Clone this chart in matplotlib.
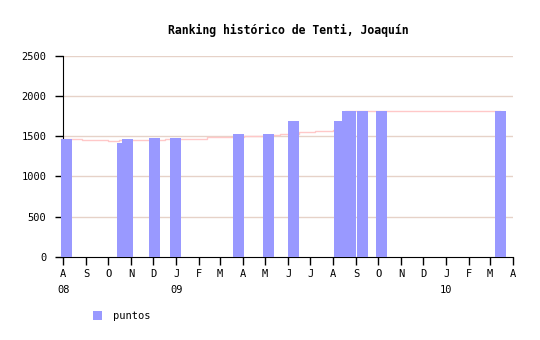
import pandas as pd
import matplotlib.pyplot as plt
from matplotlib.patches import Patch

# bar dates and ranking points
bar_dates = ["2008-08-05", "2008-10-20", "2008-10-27", "2008-12-03", "2008-12-31",
             "2009-03-26", "2009-05-05", "2009-06-08", "2009-08-09", "2009-08-20",
             "2009-08-24", "2009-09-09", "2009-10-05", "2010-03-15"]
puntos = [1470, 1420, 1470, 1485, 1485, 1535, 1535, 1685, 1685, 1810,
          1820, 1820, 1820, 1810]

# pink trend line (steps)
line_dates = ["2008-07-29", "2008-08-26", "2008-09-30", "2008-10-16", "2008-12-16",
              "2009-02-11", "2009-04-02", "2009-05-11", "2009-05-21", "2009-06-16",
              "2009-07-08", "2009-08-01", "2009-08-17", "2010-03-14"]
line_vals = [1465, 1455, 1446, 1459, 1471, 1487, 1500, 1521, 1530, 1555,
             1571, 1584, 1821, 1821]

month_labels = ["A", "S", "O", "N", "D", "J", "F", "M", "A", "M", "J",
                "J", "A", "S", "O", "N", "D", "J", "F", "M", "A"]
year_labels = {0: "08", 5: "09", 17: "10"}

font = "DejaVu Sans Mono"


def main():
    bd = pd.to_datetime(bar_dates)
    ld = pd.to_datetime(line_dates)
    months = pd.date_range("2008-08-01", "2010-04-01", freq="MS")

    fig = plt.figure(figsize=(5.4, 3.4), dpi=100)
    ax = fig.add_axes([0.117, 0.245, 0.833, 0.59])

    for v in [500, 1000, 1500, 2000, 2500]:
        ax.axhline(v, color="#e6d2c8", lw=1, zorder=0)

    ax.step(ld, line_vals, where="post", color="#ffc8c8", lw=1, zorder=1,
            clip_on=False)
    # bars sit above the spines, like in the original
    bars = ax.bar(bd, puntos, width=15, color="#9999ff", zorder=3)
    for b in bars:
        b.set_clip_on(False)

    ax.set_xlim(months[0], months[-1])
    ax.set_ylim(0, 2500)
    ax.set_yticks([0, 500, 1000, 1500, 2000, 2500])

    labels = []
    for i, m in enumerate(month_labels):
        if i in year_labels:
            labels.append(m + "\n" + year_labels[i])
        else:
            labels.append(m)
    ax.set_xticks(months)
    ax.set_xticklabels(labels, fontfamily=font, fontsize=7.5, ha="center",
                       va="top", linespacing=1.75)
    for t in ax.get_yticklabels():
        t.set_fontfamily(font)
        t.set_fontsize(7.5)

    ax.tick_params(axis="x", length=6, width=1, pad=3)
    ax.tick_params(axis="y", length=6, width=1, pad=6)
    ax.spines["top"].set_visible(False)
    ax.spines["right"].set_visible(False)

    ax.set_title("Ranking histórico de Tenti, Joaquín", fontfamily=font,
                 fontsize=8.3, fontweight="bold", pad=16)

    handle = Patch(facecolor="#9999ff", edgecolor="none")
    fig.legend([handle], ["puntos"], loc="center left",
               bbox_to_anchor=(0.155, 0.07), frameon=False,
               prop={"family": font, "size": 7.5}, handlelength=0.9,
               handleheight=0.9, handletextpad=1.0)

    fig.savefig("out.png", dpi=100)


if __name__ == "__main__":
    main()
